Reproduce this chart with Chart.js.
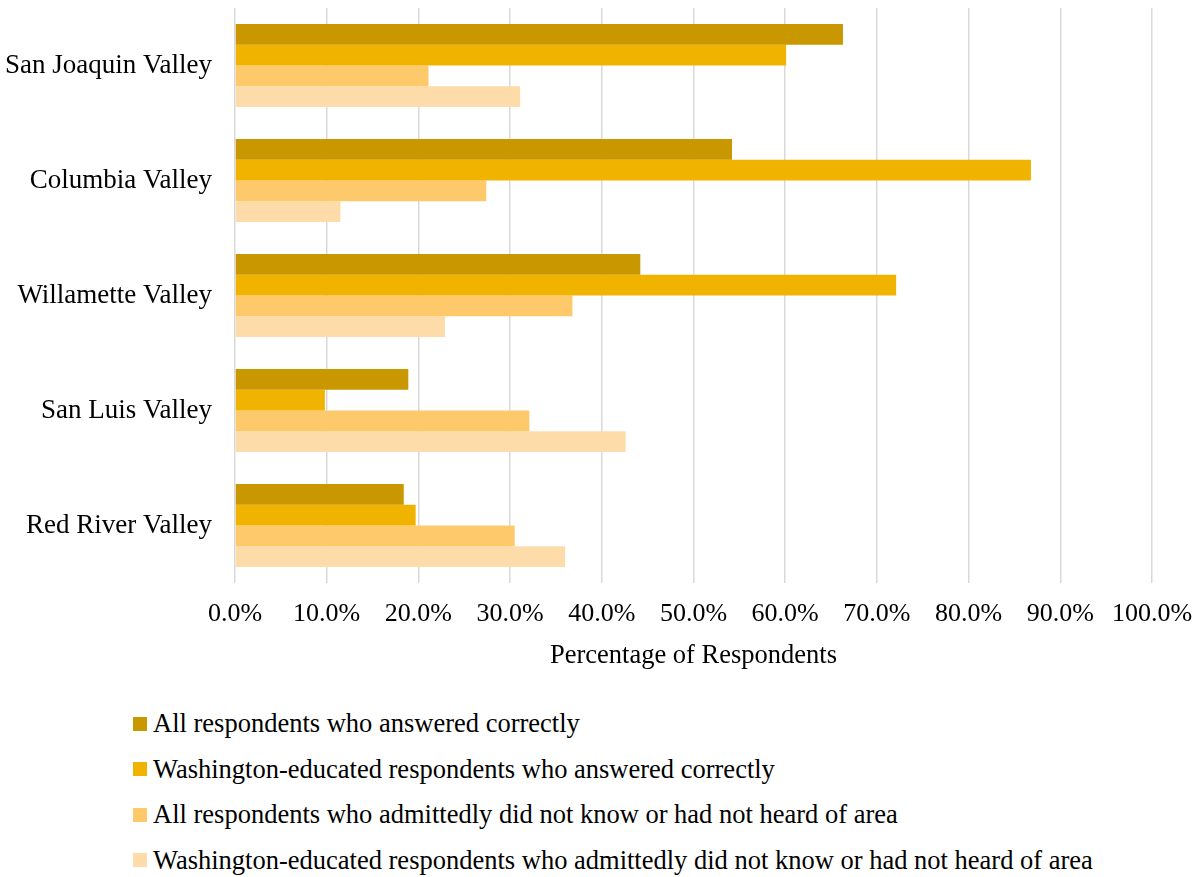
<!DOCTYPE html>
<html>
<head>
<meta charset="utf-8">
<script src="https://cdn.jsdelivr.net/npm/chart.js@4/dist/chart.umd.min.js"></script>
<style>
  html, body { margin: 0; padding: 0; background: #fff; }
  #wrap { position: relative; width: 1198px; height: 877px; }
  #c { position: absolute; left: 0; top: 0; }
  #legend { position: absolute; left: 133px; top: 701px; font-family: "Liberation Serif", "Times New Roman", serif; font-size: 26.5px; color: #000; }
  .item { display: flex; align-items: center; height: 45.5px; white-space: nowrap; }
  .box { width: 14px; height: 14px; margin-right: 6px; flex: none; }
</style>
</head>
<body>
<div id="wrap">
  <canvas id="c" width="1198" height="690"></canvas>
  <div id="legend"></div>
</div>
<script>
const categories = ["San Joaquin Valley", "Columbia Valley", "Willamette Valley", "San Luis Valley", "Red River Valley"];
const seriesNames = [
  "All respondents who answered correctly",
  "Washington-educated respondents who answered correctly",
  "All respondents who admittedly did not know or had not heard of area",
  "Washington-educated respondents who admittedly did not know or had not heard of area"
];
const allCorrect = [66.3, 54.2, 44.2, 18.9, 18.4];
const waCorrect = [60.1, 86.8, 72.1, 9.8, 19.7];
const allDontKnow = [21.1, 27.4, 36.8, 32.1, 30.5];
const waDontKnow = [31.1, 11.5, 22.9, 42.6, 36.0];
const xTicks = [0, 10, 20, 30, 40, 50, 60, 70, 80, 90, 100];
const colors = ["#C99700", "#F0B400", "#FEC96B", "#FEDCAA"];

const seriesValues = [allCorrect, waCorrect, allDontKnow, waDontKnow];
const FONT = "'Liberation Serif', 'Times New Roman', serif";

const chart = new Chart(document.getElementById('c'), {
  type: 'bar',
  data: {
    labels: categories,
    datasets: seriesNames.map((name, i) => ({
      label: name,
      data: seriesValues[i],
      backgroundColor: colors[i],
      borderWidth: 0,
      categoryPercentage: 0.72,
      barPercentage: 1.0
    }))
  },
  options: {
    indexAxis: 'y',
    responsive: false,
    animation: false,
    layout: { padding: { top: 8, right: 46, left: 0, bottom: 18 } },
    plugins: { legend: { display: false }, tooltip: { enabled: false } },
    scales: {
      x: {
        min: 0, max: 100,
        afterBuildTicks: (s) => { s.ticks = xTicks.map(v => ({ value: v })); },
        afterFit: (s) => { s.height = 89; s.paddingLeft = 0; s.paddingRight = 0; },
        grid: { color: '#d9d9d9', lineWidth: 1.5, drawTicks: false },
        border: { display: false },
        ticks: {
          padding: 16,
          color: '#000',
          font: { family: FONT, size: 26 },
          maxRotation: 0,
          callback: (v) => Number(v).toFixed(1) + '%'
        },
        title: {
          display: true,
          text: 'Percentage of Respondents',
          color: '#000',
          font: { family: FONT, size: 26.5 },
          padding: { top: 0, bottom: 0 }
        }
      },
      y: {
        afterFit: (s) => { s.width = 235; s.paddingTop = 0; s.paddingBottom = 0; },
        grid: { display: false, drawTicks: false },
        border: { display: false },
        ticks: {
          padding: 23,
          color: '#000',
          font: { family: FONT, size: 27 }
        }
      }
    }
  }
});

const legend = document.getElementById('legend');
chart.data.datasets.forEach(ds => {
  const item = document.createElement('div');
  item.className = 'item';
  const box = document.createElement('span');
  box.className = 'box';
  box.style.background = ds.backgroundColor;
  const txt = document.createElement('span');
  txt.textContent = ds.label;
  item.appendChild(box);
  item.appendChild(txt);
  legend.appendChild(item);
});
</script>
</body>
</html>
